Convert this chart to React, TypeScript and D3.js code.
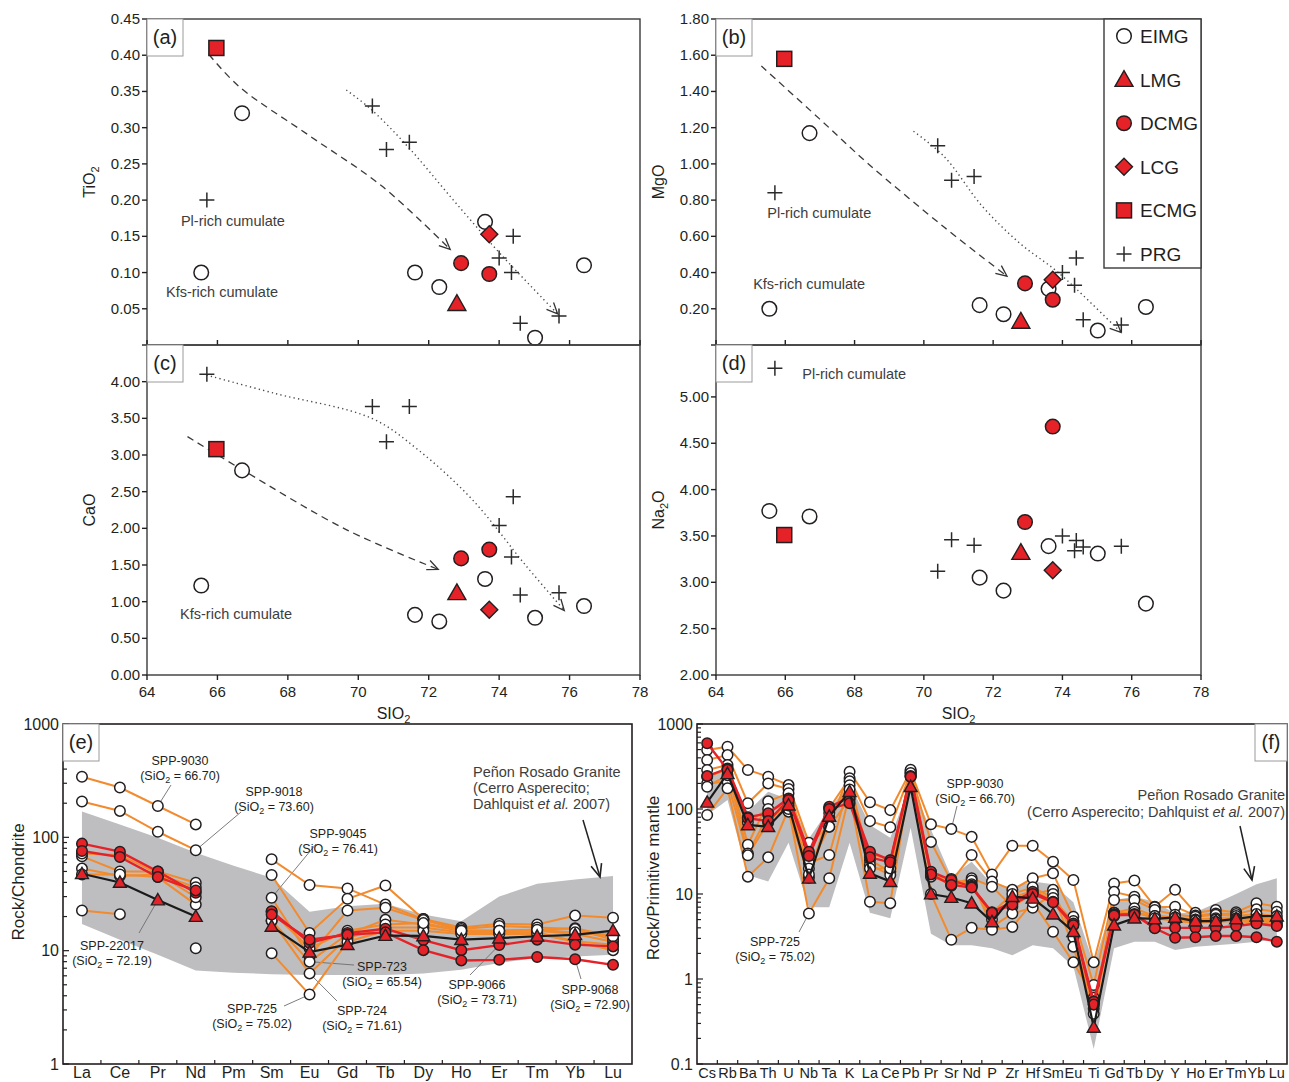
import React from "react";
import * as d3 from "d3";

const W = 1289;
const H = 1082;
const FONT = "'Liberation Sans', Arial, Helvetica, sans-serif";
const INK = "#231f20";
const RED = "#e42228";
const ORANGE = "#f28a2e";
const FIELD = "#bebec0";
const NOTE = "#3d3d3d";

// ---------- major elements (wt%) ----------
const eimgSiO2 = [65.54, 66.7, 71.61, 72.3, 73.6, 75.02, 76.41];
const eimgTiO2 = [0.1, 0.32, 0.1, 0.08, 0.17, 0.01, 0.11];
const eimgMgO = [0.2, 1.17, 0.22, 0.17, 0.31, 0.08, 0.21];
const eimgCaO = [1.22, 2.79, 0.82, 0.73, 1.31, 0.78, 0.94];
const eimgNa2O = [3.77, 3.71, 3.05, 2.91, 3.39, 3.31, 2.77];

const lmgSiO2 = [72.8];
const lmgTiO2 = [0.057];
const lmgMgO = [0.13];
const lmgCaO = [1.12];
const lmgNa2O = [3.32];

const dcmgSiO2 = [72.92, 73.72];
const dcmgTiO2 = [0.113, 0.098];
const dcmgMgO = [0.34, 0.25];
const dcmgCaO = [1.59, 1.71];
const dcmgNa2O = [3.65, 4.68];

const lcgSiO2 = [73.72];
const lcgTiO2 = [0.153];
const lcgMgO = [0.36];
const lcgCaO = [0.89];
const lcgNa2O = [3.13];

const ecmgSiO2 = [65.97];
const ecmgTiO2 = [0.41];
const ecmgMgO = [1.58];
const ecmgCaO = [3.08];
const ecmgNa2O = [3.51];

const prgSiO2 = [65.7, 70.4, 70.8, 71.45, 74.0, 74.4, 74.35, 74.6, 75.7];
const prgTiO2 = [0.2, 0.33, 0.27, 0.28, 0.12, 0.15, 0.1, 0.03, 0.04];
const prgMgO = [0.84, 1.1, 0.91, 0.93, 0.4, 0.48, 0.33, 0.14, 0.11];
const prgCaO = [4.1, 3.66, 3.18, 3.66, 2.04, 2.43, 1.61, 1.09, 1.12];
const prgNa2O = [5.31, 3.12, 3.46, 3.4, 3.5, 3.45, 3.34, 3.38, 3.39];

// hand-drawn trend arrows [SiO2, oxide]
const tiDashed = [[65.76, 0.401], [66.61, 0.357], [68.64, 0.288], [70.68, 0.219], [72.61, 0.132]];
const tiDotted = [[69.66, 0.352], [70.37, 0.325], [71.44, 0.272], [72.7, 0.2], [74.05, 0.125], [75.66, 0.043]];
const mgDashed = [[65.31, 1.54], [66.98, 1.25], [68.4, 1.0], [70.59, 0.65], [72.4, 0.38]];
const mgDotted = [[69.7, 1.18], [70.59, 1.04], [71.69, 0.765], [72.78, 0.56], [73.88, 0.4], [75.69, 0.07]];
const caDashed = [[65.15, 3.25], [66.7, 2.8], [69.67, 1.98], [72.27, 1.44]];
const caDotted = [[65.69, 4.09], [67.63, 3.84], [70.38, 3.5], [71.7, 3.07], [73.24, 2.39], [74.78, 1.48], [75.85, 0.88]];

const sioTicks = [64, 66, 68, 70, 72, 74, 76, 78];
const tiTicks = [0.05, 0.1, 0.15, 0.2, 0.25, 0.3, 0.35, 0.4, 0.45];
const mgTicks = [0.2, 0.4, 0.6, 0.8, 1.0, 1.2, 1.4, 1.6, 1.8];
const caTicks = [0, 0.5, 1.0, 1.5, 2.0, 2.5, 3.0, 3.5, 4.0];
const naTicks = [2.0, 2.5, 3.0, 3.5, 4.0, 4.5, 5.0];

// ---------- REE / chondrite ----------
const reeLabels = ["La", "Ce", "Pr", "Nd", "Pm", "Sm", "Eu", "Gd", "Tb", "Dy", "Ho", "Er", "Tm", "Yb", "Lu"];
const ree9030 = [342, 275, 189, 130, null, 64, 38, 35.4, 25.5, 19, 16, 17.3, 17, 20.4, 19.5];
const ree9018 = [207, 171, 112, 77, null, 46.5, 14.3, 28.7, 37.6, 19, 15, 15, 15.3, 15.8, 13.4];
const ree9045 = [68, 50, 50, 39.7, null, 29.3, 8.9, 22.6, 23.9, 18.6, 15.5, 16.5, 16, 15.5, 12.5];
const ree723 = [53, 45.5, 47, 36.3, null, 18.4, 8.0, 14, 18.7, 17, 15, 15, 15, 14, 12];
const ree724 = [47, 47, 44.6, 25.5, null, 18.4, 6.3, 13, 16, 16, 14.5, 14.5, 14.5, 12.1, 11.3];
const ree725 = [22.6, 21, null, 10.5, null, 9.5, 4.1, 12, 15, 15, 14, 14, 14, 12, 10.1];
const ree2230 = [72, 70, 48, 29.6, null, 22, 10.5, 15, 17, 17.5, 15, 15, 15.3, 14.5, 13.4];
const ree9066 = [88, 74.7, 50, 32.4, null, 22.3, 11.7, 14.3, 15.6, 12.4, 10.1, 11.2, 12.5, 11.3, 10.9];
const ree9068 = [75.7, 67, 44.6, 34, null, 20.8, 12.5, 13.8, 14.5, 10.1, 8.2, 8.3, 8.8, 8.4, 7.5];
const ree22017 = [47.7, 40, 28, 20, null, 16.4, 9.7, 11.3, 13.6, 13.5, 12.5, 12.9, 13.4, 13.8, 15];
const reeFieldTop = [169, 130, 99, 73, 56, 44, 22, 24.7, 26, 20.8, 18.2, 30, 39, 42.5, 45.5];
const reeFieldBase = [17.2, 12.5, 9.2, 6.7, 6.4, 6.2, 6.1, 6.1, 6.1, 6.3, 6.8, 7.8, 8.6, 8.9, 9.2];
const reeTicks = [1, 10, 100, 1000];

// ---------- multi-element / primitive mantle ----------
const spLabels = ["Cs", "Rb", "Ba", "Th", "U", "Nb", "Ta", "K", "La", "Ce", "Pb", "Pr", "Sr", "Nd", "P", "Zr", "Hf", "Sm", "Eu", "Ti", "Gd", "Tb", "Dy", "Y", "Ho", "Er", "Tm", "Yb", "Lu"];
const sp9030 = [494, 541, 288, 240, 191, 40, 62, 275, 120, 97, 280, 66, 58, 47, 17, 37, 37, 24, 14.6, 1.57, 13.3, 14.4, 7.1, 11.2, 6.0, 6.5, 6.1, 7.8, 7.1];
const sp9018 = [377, 431, 117, 200, 172, 28.8, 102, 230, 72, 61, 270, 41, 14, 28.8, 14, 11.2, 15.3, 17.5, 5.4, 0.85, 10.6, 9.3, 7.0, 7.1, 5.6, 5.9, 5.8, 6.6, 6.2];
const sp9045 = [288, 329, 38, 123, 153, 23, 28.8, 212, 25, 18.3, 290, 18, 13, 15.3, 12.2, 7.1, 10, 11.2, 3.1, 0.45, 8.5, 8.5, 6.5, 5.7, 5.4, 5.7, 5.5, 5.8, 5.5];
const sp723 = [240, 288, 30, 85, 93, 15.5, 80, 190, 22, 16.7, 260, 17.5, 12.5, 14.4, 4.1, 5.9, 6.9, 10, 2.4, 0.39, 6, 6.8, 5.5, 5.3, 5, 5.2, 5.2, 5.2, 5];
const sp725 = [85, 175, 16, 27, 100, 5.9, 15.3, 150, 8.1, 7.8, 250, 10, 2.9, 4, 3.8, 4.1, 8, 3.6, 1.57, 0.6, 5.5, 6, 5.5, 5.3, 4.9, 5, 5, 5, 4.8];
const sp724 = [200, 210, 28.5, 70, 120, 20, 62, 130, 30, 25, 240, 17, 15, 13, 5, 9, 11, 8.5, 4.8, 0.5, 6, 6, 5.3, 5, 4.7, 4.9, 4.9, 4.9, 4.5];
const sp2230 = [183, 250, 70, 100, 110, 17, 90, 170, 20, 20, 265, 16, 13.5, 12.5, 6, 10, 12, 9, 4.4, 0.55, 5.8, 6.2, 5.2, 4.8, 4.6, 4.7, 4.8, 4.6, 4.3];
const sp9066 = [244, 300, 80, 89, 133, 31.5, 106, 136, 31.5, 25, 244, 18.3, 14.6, 12.2, 6.1, 8.1, 10.6, 8.1, 4.5, 0.54, 5.7, 5.8, 4.0, 4.0, 4.0, 4.0, 4.2, 4.5, 4.2];
const sp9068 = [593, 290, 78, 72, 128, 28, 100, 117, 27, 23.6, 240, 17, 12.8, 11.9, 6.0, 7.5, 10, 8, 4.3, 0.5, 5.6, 5.7, 3.95, 3.06, 3.1, 3.2, 3.2, 3.1, 2.75];
const sp22017 = [120, 260, 65, 62, 111, 15.3, 82, 160, 17.5, 14, 183, 10, 9.1, 7.8, 4.7, 9.3, 8.9, 5.8, 3.6, 0.27, 4.3, 5.2, 5.1, 5.3, 4.8, 4.8, 5.1, 5.5, 5.5];
const spFieldTop = [240, 275, 93, 160, 130, 45, 100, 200, 65, 46, 200, 57, 16, 24, 13, 12, 14, 13, 8, 1.5, 8.5, 9.3, 8.1, 5.9, 6.1, 7.8, 10, 13, 15.3];
const spFieldBase = [85, 128, 16.7, 14, 40, 7, 7, 40, 6, 5.2, 60, 3.4, 2.5, 2.5, 2.3, 1.9, 2.5, 2.3, 1.4, 0.15, 2.3, 2.75, 2.75, 2.2, 2.4, 2.5, 2.6, 2.75, 2.9];
const spTicks = [0.1, 1, 10, 100, 1000];

// groups for the scatter panels (drawing order)
const groups = [
  { name: "EIMG", shape: "open", SiO2: eimgSiO2, TiO2: eimgTiO2, MgO: eimgMgO, CaO: eimgCaO, Na2O: eimgNa2O },
  { name: "PRG", shape: "plus", SiO2: prgSiO2, TiO2: prgTiO2, MgO: prgMgO, CaO: prgCaO, Na2O: prgNa2O },
  { name: "LMG", shape: "triangle", SiO2: lmgSiO2, TiO2: lmgTiO2, MgO: lmgMgO, CaO: lmgCaO, Na2O: lmgNa2O },
  { name: "DCMG", shape: "circle", SiO2: dcmgSiO2, TiO2: dcmgTiO2, MgO: dcmgMgO, CaO: dcmgCaO, Na2O: dcmgNa2O },
  { name: "LCG", shape: "diamond", SiO2: lcgSiO2, TiO2: lcgTiO2, MgO: lcgMgO, CaO: lcgCaO, Na2O: lcgNa2O },
  { name: "ECMG", shape: "square", SiO2: ecmgSiO2, TiO2: ecmgTiO2, MgO: ecmgMgO, CaO: ecmgCaO, Na2O: ecmgNa2O },
];
const legendOrder = ["EIMG", "LMG", "DCMG", "LCG", "ECMG", "PRG"];

function Marker({ shape, x, y, s = 1 }) {
  if (shape === "open") return <circle cx={x} cy={y} r={7.3 * s} fill="#fff" stroke={INK} strokeWidth={1.5} />;
  if (shape === "circle") return <circle cx={x} cy={y} r={7.3 * s} fill={RED} stroke={INK} strokeWidth={1.5} />;
  if (shape === "triangle") {
    const a = 9 * s;
    return <path d={`M${x},${y - a}L${x + a},${y + a * 0.75}L${x - a},${y + a * 0.75}Z`} fill={RED} stroke={INK} strokeWidth={1.4} />;
  }
  if (shape === "diamond") {
    const a = 8.5 * s;
    return <path d={`M${x},${y - a}L${x + a},${y}L${x},${y + a}L${x - a},${y}Z`} fill={RED} stroke={INK} strokeWidth={1.4} />;
  }
  if (shape === "square") {
    const a = 7.5 * s;
    return <rect x={x - a} y={y - a} width={2 * a} height={2 * a} fill={RED} stroke={INK} strokeWidth={1.5} />;
  }
  const a = 7.5 * s;
  return <path d={`M${x - a},${y}H${x + a}M${x},${y - a}V${y + a}`} stroke="#2a2a2a" strokeWidth={1.5} />;
}

function ArrowHead({ from, to, len = 12, spread = 0.42, stroke = "#333", width = 1.3 }) {
  const ang = Math.atan2(to[1] - from[1], to[0] - from[0]);
  const p1 = [to[0] - len * Math.cos(ang - spread), to[1] - len * Math.sin(ang - spread)];
  const p2 = [to[0] - len * Math.cos(ang + spread), to[1] - len * Math.sin(ang + spread)];
  return <path d={`M${p1[0]},${p1[1]}L${to[0]},${to[1]}L${p2[0]},${p2[1]}`} fill="none" stroke={stroke} strokeWidth={width} />;
}

function Oxide({ name }) {
  // oxide names with a subscript 2
  if (name === "TiO2") return <>TiO<tspan fontSize={11} dy={4}>2</tspan></>;
  if (name === "Na2O") return <>Na<tspan fontSize={11} dy={4}>2</tspan><tspan dy={-4}>O</tspan></>;
  return <>{name}</>;
}

function Tag({ x, y, w, label }) {
  return (
    <g>
      <rect x={x} y={y} width={w} height={37} fill="#fff" stroke="#9a9a9a" strokeWidth={1} />
      <text x={x + w / 2} y={y + 25} textAnchor="middle" fontSize={20} fill={INK}>{label}</text>
    </g>
  );
}

const scatterPanels = [
  { tag: "(a)", oxide: "TiO2", x0: 147, x1: 640, y0: 19, y1: 345, yDomain: [0, 0.45], ticks: tiTicks, zeroTick: true, xAxis: false,
    trends: [tiDashed, tiDotted],
    notes: [{ t: "Pl-rich cumulate", x: 66.44, y: 0.171 }, { t: "Kfs-rich cumulate", x: 66.13, y: 0.073 }] },
  { tag: "(b)", oxide: "MgO", x0: 716, x1: 1201, y0: 19, y1: 345, yDomain: [0, 1.8], ticks: mgTicks, zeroTick: true, xAxis: false, legend: true,
    trends: [mgDashed, mgDotted],
    notes: [{ t: "Pl-rich cumulate", x: 66.98, y: 0.729 }, { t: "Kfs-rich cumulate", x: 66.69, y: 0.337 }] },
  { tag: "(c)", oxide: "CaO", x0: 147, x1: 640, y0: 345, y1: 675, yDomain: [0, 4.5], ticks: caTicks, xAxis: true,
    trends: [caDashed, caDotted],
    notes: [{ t: "Kfs-rich cumulate", x: 66.53, y: 0.83 }] },
  { tag: "(d)", oxide: "Na2O", x0: 716, x1: 1201, y0: 345, y1: 675, yDomain: [2, 5.56], ticks: naTicks, xAxis: true,
    trends: [],
    notes: [{ t: "Pl-rich cumulate", x: 67.99, y: 5.25 }] },
];

function ScatterPanel({ p }) {
  const x = d3.scaleLinear().domain([64, 78]).range([p.x0, p.x1]);
  const y = d3.scaleLinear().domain(p.yDomain).range([p.y1, p.y0]);
  const curve = d3.line().curve(d3.curveCatmullRom.alpha(0.5));
  const fmt = d3.format(".2f");
  const midY = (p.y0 + p.y1) / 2;
  return (
    <g>
      {p.trends.map((tr, i) => {
        const pts = tr.map((d) => [x(d[0]), y(d[1])]);
        const dashed = i === 0;
        return (
          <g key={i}>
            <path d={curve(pts)} fill="none" stroke={dashed ? "#3a3a3a" : "#4a4a4a"} strokeWidth={dashed ? 1.3 : 1.4}
              strokeDasharray={dashed ? "7,5" : "1.3,3.2"} />
            <ArrowHead from={pts[pts.length - 2]} to={pts[pts.length - 1]} stroke="#333" />
          </g>
        );
      })}
      {p.notes.map((n, i) => (
        <text key={i} x={x(n.x)} y={y(n.y)} dy={5} textAnchor="middle" fontSize={14.5} fill={NOTE}>{n.t}</text>
      ))}
      {groups.map((g) =>
        g.SiO2.map((s, i) => <Marker key={g.name + i} shape={g.shape} x={x(s)} y={y(g[p.oxide][i])} />)
      )}
      <rect x={p.x0} y={p.y0} width={p.x1 - p.x0} height={p.y1 - p.y0} fill="none" stroke="#3a3a3a" strokeWidth={1.4} />
      {p.ticks.map((t) => (
        <g key={t}>
          <line x1={p.x0 - 5} x2={p.x0} y1={y(t)} y2={y(t)} stroke={INK} strokeWidth={1.4} />
          <text x={p.x0 - 7} y={y(t)} dy={5} textAnchor="end" fontSize={15} fill={INK}>{fmt(t)}</text>
        </g>
      ))}
      {p.zeroTick && <line x1={p.x0 - 5} x2={p.x0} y1={y(0)} y2={y(0)} stroke={INK} strokeWidth={1.4} />}
      {sioTicks.map((t) =>
        p.xAxis ? (
          <g key={t}>
            <line x1={x(t)} x2={x(t)} y1={p.y1} y2={p.y1 + 5} stroke={INK} strokeWidth={1.4} />
            <text x={x(t)} y={p.y1 + 22} textAnchor="middle" fontSize={15} fill={INK}>{t}</text>
          </g>
        ) : (
          <line key={t} x1={x(t)} x2={x(t)} y1={p.y1} y2={p.y1 - 5} stroke={INK} strokeWidth={1.4} />
        )
      )}
      {p.xAxis && (
        <text x={(p.x0 + p.x1) / 2} y={p.y1 + 44} textAnchor="middle" fontSize={16} fill={INK}>
          SIO<tspan fontSize={11} dy={4}>2</tspan>
        </text>
      )}
      <text transform={`translate(${p.x0 - 52},${midY}) rotate(-90)`} textAnchor="middle" fontSize={16} fill={INK}>
        <Oxide name={p.oxide} />
      </text>
      <Tag x={p.x0} y={p.y0} w={36} label={p.tag} />
      {p.legend && (
        <g>
          <rect x={p.x1 - 97} y={p.y0} width={97} height={249} fill="#fff" stroke="#3a3a3a" strokeWidth={1.4} />
          {legendOrder.map((name, i) => {
            const g = groups.find((d) => d.name === name);
            const ly = p.y0 + 17 + i * 43.6;
            return (
              <g key={name}>
                <Marker shape={g.shape} x={p.x1 - 77} y={ly} />
                <text x={p.x1 - 61} y={ly} dy={7} fontSize={19} fill={INK}>{name}</text>
              </g>
            );
          })}
        </g>
      )}
    </g>
  );
}

const reeCfg = {
  tag: "(e)", x0: 63, x1: 632, y0: 724, y1: 1064, domain: [1, 1000], labels: reeLabels, ticks: reeTicks,
  top: reeFieldTop, base: reeFieldBase, yTitle: "Rock/Chondrite", titleX: 19, titleY: 882, catFont: 16,
  tagX: 63, tagW: 36,
  series: [
    { id: "9030", g: "EIMG", v: ree9030 }, { id: "9018", g: "EIMG", v: ree9018 }, { id: "9045", g: "EIMG", v: ree9045 },
    { id: "723", g: "EIMG", v: ree723 }, { id: "724", g: "EIMG", v: ree724 }, { id: "725", g: "EIMG", v: ree725 },
    { id: "2230", g: "EIMG", v: ree2230 },
    { id: "9066", g: "DCMG", v: ree9066 }, { id: "9068", g: "DCMG", v: ree9068 },
    { id: "22017", g: "LMG", v: ree22017 },
  ],
  notes: [
    { name: "SPP-9030", si: "66.70", x: 180, y: 760, from: [171, 785], id: "9030", el: "Pr" },
    { name: "SPP-9018", si: "73.60", x: 274, y: 791, from: [241, 812], id: "9018", el: "Nd" },
    { name: "SPP-9045", si: "76.41", x: 338, y: 833, from: [316, 844], id: "9045", el: "Sm" },
    { name: "SPP-22017", si: "72.19", x: 112, y: 945, from: [139, 933], id: "22017", el: "Pr" },
    { name: "SPP-725", si: "75.02", x: 252, y: 1008, from: [284, 1006], id: "725", el: "Eu" },
    { name: "SPP-723", si: "65.54", x: 382, y: 966, from: [354, 965], id: "723", el: "Eu" },
    { name: "SPP-724", si: "71.61", x: 362, y: 1010, from: [337, 1001], id: "724", el: "Eu" },
    { name: "SPP-9066", si: "73.71", x: 477, y: 984, from: [470, 975], id: "9066", el: "Er" },
    { name: "SPP-9068", si: "72.90", x: 590, y: 989, from: [581, 979], id: "9068", el: "Yb" },
  ],
  prg: { anchor: "start", x: 473, y: 772, lines: 3, arrow: [[583, 820], [600, 877]] },
};

const spCfg = {
  tag: "(f)", x0: 697, x1: 1287, y0: 724, y1: 1064, domain: [0.1, 1000], labels: spLabels, ticks: spTicks,
  top: spFieldTop, base: spFieldBase, yTitle: "Rock/Primitive mantle", titleX: 654, titleY: 878, catFont: 14.5,
  tagX: 1255, tagW: 32,
  series: [
    { id: "9030", g: "EIMG", v: sp9030 }, { id: "9018", g: "EIMG", v: sp9018 }, { id: "9045", g: "EIMG", v: sp9045 },
    { id: "723", g: "EIMG", v: sp723 }, { id: "724", g: "EIMG", v: sp724 }, { id: "725", g: "EIMG", v: sp725 },
    { id: "2230", g: "EIMG", v: sp2230 },
    { id: "9066", g: "DCMG", v: sp9066 }, { id: "9068", g: "DCMG", v: sp9068 },
    { id: "22017", g: "LMG", v: sp22017 },
  ],
  notes: [
    { name: "SPP-9030", si: "66.70", x: 975, y: 783, from: [957, 806], id: "9030", el: "Sr" },
    { name: "SPP-725", si: "75.02", x: 775, y: 941, from: [799, 932], id: "725", el: "Nb" },
  ],
  prg: { anchor: "end", x: 1285, y: 795, lines: 2, arrow: [[1240, 826], [1252, 880]] },
};

const style = {
  EIMG: { color: ORANGE, width: 2, shape: "open" },
  DCMG: { color: RED, width: 2.4, shape: "circle" },
  LMG: { color: "#1a1a1a", width: 2.2, shape: "triangle" },
};

function SpiderPanel({ c }) {
  const x = d3.scaleBand().domain(c.labels).range([c.x0, c.x1]);
  const bw = x.bandwidth();
  const cx = (k) => x(k) + bw / 2;
  const y = d3.scaleLog().domain(c.domain).range([c.y1, c.y0]);
  const line = d3.line().defined((d) => d.v != null).x((d) => cx(d.k)).y((d) => y(d.v));
  const area = d3.area().x((d) => cx(d.k)).y0((d) => y(d.lo)).y1((d) => y(d.hi));
  const fieldPts = c.labels.map((k, i) => ({ k, lo: c.base[i], hi: c.top[i] }));
  const rows = (s) => c.labels.map((k, i) => ({ k, v: s.v[i] }));
  const minor = y.ticks();
  const order = ["EIMG", "DCMG", "LMG"];
  const pointOf = (id, el) => {
    const s = c.series.find((d) => d.id === id);
    return [cx(el), y(s.v[c.labels.indexOf(el)])];
  };
  const twoLine = (n) => (
    <g key={n.name}>
      <text x={n.x} y={n.y + 4.5} textAnchor="middle" fontSize={12.5} fill={INK}>{n.name}</text>
      <text x={n.x} y={n.y + 20} textAnchor="middle" fontSize={12.5} fill={INK}>
        (SiO<tspan fontSize={9} dy={3}>2</tspan><tspan dy={-3}> = {n.si})</tspan>
      </text>
    </g>
  );
  return (
    <g>
      <path d={area(fieldPts)} fill={FIELD} />
      {c.notes.map((n) => {
        const p = pointOf(n.id, n.el);
        return <line key={"l" + n.name} x1={n.from[0]} y1={n.from[1]} x2={p[0]} y2={p[1]} stroke="#6d6d6d" strokeWidth={0.9} />;
      })}
      {order.map((g) => (
        <g key={g}>
          {c.series.filter((s) => s.g === g).map((s) => (
            <path key={s.id} d={line(rows(s))} fill="none" stroke={style[g].color} strokeWidth={style[g].width} />
          ))}
          {c.series.filter((s) => s.g === g).map((s) =>
            rows(s).filter((d) => d.v != null).map((d) => (
              <Marker key={s.id + d.k} shape={style[g].shape} x={cx(d.k)} y={y(d.v)} s={0.72} />
            ))
          )}
        </g>
      ))}
      <rect x={c.x0} y={c.y0} width={c.x1 - c.x0} height={c.y1 - c.y0} fill="none" stroke={INK} strokeWidth={1.6} />
      {minor.map((t) => (
        <line key={t} x1={c.x0} x2={c.x0 + (c.ticks.includes(t) ? 6 : 4)} y1={y(t)} y2={y(t)} stroke={INK} strokeWidth={1.2} />
      ))}
      {c.ticks.map((t) => (
        <text key={t} x={c.x0 - 4} y={y(t)} dy={5.5} textAnchor="end" fontSize={16} fill={INK}>{t}</text>
      ))}
      {c.labels.slice(1).map((k) => (
        <line key={k} x1={x(k)} x2={x(k)} y1={c.y1} y2={c.y1 - 4} stroke={INK} strokeWidth={1.2} />
      ))}
      {c.labels.map((k) => (
        <text key={k} x={cx(k)} y={1078} textAnchor="middle" fontSize={c.catFont} fill={INK}>{k}</text>
      ))}
      <text transform={`translate(${c.titleX + 5},${c.titleY}) rotate(-90)`} textAnchor="middle" fontSize={17} fill={INK}>
        {c.yTitle}
      </text>
      {c.notes.map(twoLine)}
      <g fill={NOTE} fontSize={14.5} textAnchor={c.prg.anchor}>
        {c.prg.lines === 3 ? (
          <>
            <text x={c.prg.x} y={c.prg.y + 5}>Peñon Rosado Granite</text>
            <text x={c.prg.x} y={c.prg.y + 21}>(Cerro Asperecito;</text>
            <text x={c.prg.x} y={c.prg.y + 37}>Dahlquist <tspan fontStyle="italic">et al.</tspan>  2007)</text>
          </>
        ) : (
          <>
            <text x={c.prg.x} y={c.prg.y + 5}>Peñon Rosado Granite</text>
            <text x={c.prg.x} y={c.prg.y + 22}>(Cerro Asperecito; Dahlquist <tspan fontStyle="italic">et al.</tspan>  2007)</text>
          </>
        )}
      </g>
      <line x1={c.prg.arrow[0][0]} y1={c.prg.arrow[0][1]} x2={c.prg.arrow[1][0]} y2={c.prg.arrow[1][1]} stroke="#222" strokeWidth={1.5} />
      <ArrowHead from={c.prg.arrow[0]} to={c.prg.arrow[1]} len={14} spread={0.4} stroke="#222" width={1.6} />
      <Tag x={c.tagX} y={c.y0} w={c.tagW} label={c.tag} />
    </g>
  );
}

export default function App() {
  return (
    <svg width={W} height={H} viewBox={`0 0 ${W} ${H}`} fontFamily={FONT}
      style={{ position: "absolute", left: 0, top: 0, background: "#fff", display: "block" }}>
      <rect width={W} height={H} fill="#fff" />
      {scatterPanels.map((p) => <ScatterPanel key={p.tag} p={p} />)}
      <SpiderPanel c={reeCfg} />
      <SpiderPanel c={spCfg} />
    </svg>
  );
}
